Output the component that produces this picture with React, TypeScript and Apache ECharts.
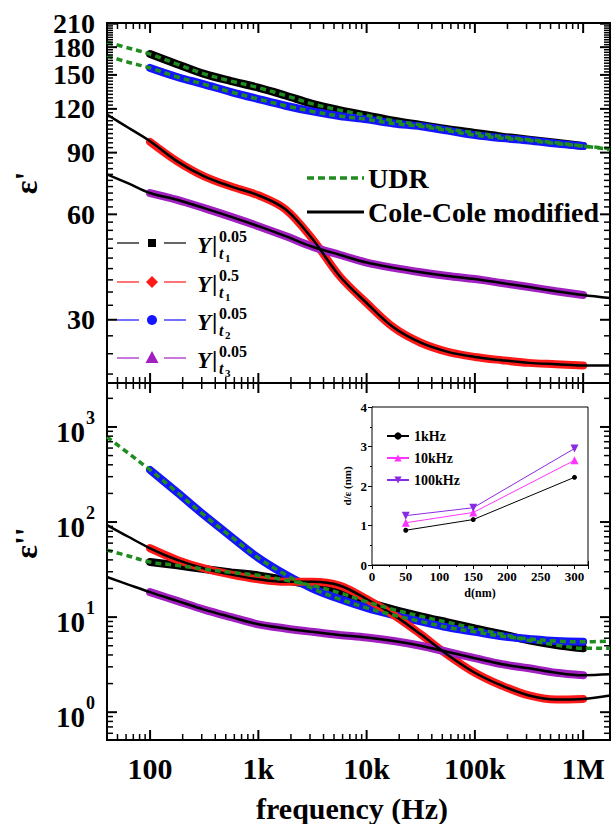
import React, { useEffect, useRef } from 'react';
import * as echarts from 'echarts';

const FONT = 'Liberation Serif';

// ---------- axes ----------
const X_MIN = 40;
const X_MAX = 1.77e6;
const Y_RE_MIN = 19.8;
const Y_RE_MAX = 211;
const Y_IM_MIN = 0.51;
const Y_IM_MAX = 2900;

const xMajorTicks = [100, 1e3, 1e4, 1e5, 1e6];
const xTickLabels = ['100', '1k', '10k', '100k', '1M'];
const logDecades = [0.1, 1, 10, 100, 1e3, 1e4, 1e5, 1e6];
const logMinorMult = [2, 3, 4, 5, 6, 7, 8, 9];
const yReMajorTicks = [30, 60, 90, 120, 150, 180, 210];
const yReTickLabels = ['30', '60', '90', '120', '150', '180', '210'];
const yReMinorStep = 3;
const yImMajorTicks = [1, 10, 100, 1000];
const yImTickExp = ['0', '1', '2', '3'];

// ---------- data ----------
const freqExp = [100, 178, 316, 562, 1e3, 1.78e3, 3.16e3, 5.62e3, 1e4, 1.78e4, 3.16e4, 5.62e4, 1e5, 1.78e5, 3.16e5, 5.62e5, 1e6];
const freqFit = [40, 63, 100, 178, 316, 562, 1e3, 1.78e3, 3.16e3, 5.62e3, 1e4, 1.78e4, 3.16e4, 5.62e4, 1e5, 1.78e5, 3.16e5, 5.62e5, 1e6, 1.77e6];

// ε' (real part)
const reT1a = [172, 161, 151, 144, 138, 131, 124, 119, 115, 111, 108, 105, 102.5, 100, 98, 96, 94];
const reT1b = [96.6, 85, 77, 72, 68, 62, 51, 40, 33.5, 28.5, 25.8, 24.3, 23.5, 23, 22.6, 22.4, 22.2];
const reT2 = [157, 148, 141, 134, 128, 122.5, 118, 114.5, 112, 109, 107, 104, 101, 99, 97.5, 95.5, 94];
const reT3 = [69, 66, 62.5, 59, 55.5, 52, 48.5, 46, 43.7, 42.2, 41, 40, 39.2, 38.2, 37.2, 36.2, 35.3];
const udrReUpper = [186, 179, 172, 161, 151, 144, 138, 131, 124, 119, 115, 111, 108, 105, 102.5, 100, 98, 96, 94, 92.5];
const udrReLower = [170, 163, 157, 148, 141, 134, 128, 122.5, 118, 114.5, 112, 109, 107, 104, 101, 99, 97.5, 95.5, 94, 92];
const ccReT1b = [115.6, 106, 97, 85, 77, 72, 68, 62, 51, 40, 33.5, 28.5, 25.8, 24.3, 23.5, 23, 22.6, 22.4, 22.2, 22.2];
const ccReT3 = [78, 73.5, 69, 66, 62.5, 59, 55.5, 52, 48.5, 46, 43.7, 42.2, 41, 40, 39.2, 38.2, 37.2, 36.2, 35.3, 34.6];

// ε'' (imaginary part)
const imT1a = [38, 35, 32, 29.5, 27.5, 24.5, 21.5, 18, 14.5, 12, 10.2, 8.8, 7.6, 6.6, 5.7, 5.1, 4.7];
const imT1b = [53, 40, 32.5, 28, 25, 23.5, 23.5, 21.5, 15.5, 10.5, 6.6, 4, 2.6, 1.9, 1.5, 1.36, 1.38];
const imT2 = [353, 205, 118, 70, 42, 28, 20, 15.5, 12.5, 10.5, 9, 7.8, 7, 6.3, 5.9, 5.6, 5.5];
const imT3 = [18.3, 14.8, 12, 10, 8.4, 7.6, 7, 6.5, 6.1, 5.6, 5, 4.3, 3.7, 3.2, 2.9, 2.6, 2.45];
const udrImUpper = [785, 530, 353, 205, 118, 70, 42, 28, 20, 15.5, 12.5, 10.5, 9, 7.8, 7, 6.3, 5.9, 5.6, 5.5, 5.6];
const udrImLower = [50.7, 44, 38, 35, 32, 29.5, 27.5, 24.5, 21.5, 18, 14.5, 12, 10.2, 8.8, 7.6, 6.6, 5.7, 5.1, 4.7, 4.7];
const ccImT1b = [93, 70, 53, 40, 32.5, 28, 25, 23.5, 23.5, 21.5, 15.5, 10.5, 6.6, 4, 2.6, 1.9, 1.5, 1.36, 1.38, 1.5];
const ccImT3 = [26.4, 22, 18.3, 14.8, 12, 10, 8.4, 7.6, 7, 6.5, 6.1, 5.6, 5, 4.3, 3.7, 3.2, 2.9, 2.6, 2.45, 2.5];

// inset
const insetD = [50, 150, 300];
const inset1k = [0.88, 1.15, 2.22];
const inset10k = [1.07, 1.33, 2.65];
const inset100k = [1.25, 1.45, 2.95];
const insetNames = ['1kHz', '10kHz', '100kHz'];

const C_BLACK = '#000000';
const C_RED = '#ff1a1a';
const C_BLUE = '#1414ff';
const C_PURPLE = '#a020c0';
const C_GREEN = '#1e8c1e';

const zip = (xs: number[], ys: number[]) => xs.map((x, i) => [x, ys[i]]);

function band(name: string, g: number, ys: number[], color: string) {
  return {
    type: 'line', name, xAxisIndex: g, yAxisIndex: g, data: zip(freqExp, ys),
    symbol: 'none', smooth: 0.35, silent: true, z: 2,
    lineStyle: { color, width: 8, cap: 'round' },
  };
}
function fit(g: number, ys: number[]) {
  return {
    type: 'line', xAxisIndex: g, yAxisIndex: g, data: zip(freqFit, ys),
    symbol: 'none', smooth: 0.35, silent: true, z: 3,
    lineStyle: { color: '#000', width: 2.5 },
  };
}
function udr(g: number, ys: number[]) {
  return {
    type: 'line', xAxisIndex: g, yAxisIndex: g, data: zip(freqFit, ys),
    symbol: 'none', smooth: 0.35, silent: true, z: 4,
    lineStyle: { color: C_GREEN, width: 3.5, type: [6, 4] },
  };
}

function logMinors(lo: number, hi: number, majors: number[]) {
  const out: number[] = [];
  logDecades.forEach((d) => logMinorMult.forEach((m) => {
    const v = +(d * m).toPrecision(6);
    if (v > lo && v < hi && majors.indexOf(v) < 0) out.push(v);
  }));
  return out;
}

function xTickSeries(g: number, yLo: number, yHi: number) {
  const minors = logMinors(X_MIN, X_MAX, xMajorTicks);
  const data = xMajorTicks.map((v) => [v, yLo, 1]).concat(minors.map((v) => [v, yLo, 0]));
  return {
    type: 'custom', xAxisIndex: g, yAxisIndex: g, clip: false, silent: true, z: 10,
    data, encode: { x: 0, y: 1 },
    renderItem: (_p: any, api: any) => {
      const v = api.value(0);
      const major = api.value(2) === 1;
      const len = major ? 10 : 6;
      const lw = major ? 2 : 1.5;
      const pb = api.coord([v, yLo]);
      const pt = api.coord([v, yHi]);
      return {
        type: 'group', children: [
          { type: 'line', shape: { x1: pb[0], y1: pb[1], x2: pb[0], y2: pb[1] - len }, style: { stroke: '#000', lineWidth: lw } },
          { type: 'line', shape: { x1: pt[0], y1: pt[1], x2: pt[0], y2: pt[1] + len }, style: { stroke: '#000', lineWidth: lw } },
        ],
      };
    },
  };
}

function yTickSeries(g: number, majors: number[], minors: number[]) {
  const data = majors.map((v) => [X_MIN, v, 1]).concat(minors.map((v) => [X_MIN, v, 0]));
  return {
    type: 'custom', xAxisIndex: g, yAxisIndex: g, clip: false, silent: true, z: 10,
    data, encode: { x: 0, y: 1 },
    renderItem: (_p: any, api: any) => {
      const v = api.value(1);
      const major = api.value(2) === 1;
      const len = major ? 10 : 6;
      const lw = major ? 2 : 1.5;
      const pl = api.coord([X_MIN, v]);
      const pr = api.coord([X_MAX, v]);
      return {
        type: 'group', children: [
          { type: 'line', shape: { x1: pl[0], y1: pl[1], x2: pl[0] + len, y2: pl[1] }, style: { stroke: '#000', lineWidth: lw } },
          { type: 'line', shape: { x1: pr[0], y1: pr[1], x2: pr[0] - len, y2: pr[1] }, style: { stroke: '#000', lineWidth: lw } },
        ],
      };
    },
  };
}

function f(size: number, weight = 'bold', style = '') {
  return `${style ? style + ' ' : ''}${weight} ${size}px ${FONT}`;
}

function txt(text: string, font: string, align: string, vAlign: string, lineHeight?: number) {
  const s: any = { text, font, fill: '#000', align, verticalAlign: vAlign, textAlign: align, textVerticalAlign: vAlign };
  if (lineHeight) s.lineHeight = lineHeight;
  return s;
}

function buildOption() {
  const reMinors: number[] = [];
  for (let v = 21; v < Y_RE_MAX; v += yReMinorStep) if (v % 30 !== 0) reMinors.push(v);
  const imMinors = logMinors(Y_IM_MIN, Y_IM_MAX, yImMajorTicks);

  const hiddenLog = (g: number, min: number, max: number) => ({
    type: 'log', logBase: 10, gridIndex: g, min, max,
    axisLine: { show: false }, axisTick: { show: false }, axisLabel: { show: false },
    splitLine: { show: false }, minorTick: { show: false },
  });

  const insetAxisCommon = {
    axisLine: { show: true, lineStyle: { color: '#000', width: 1 } },
    axisTick: { show: true, inside: true, length: 4, lineStyle: { color: '#000' } },
    minorTick: { show: true, splitNumber: 2, length: 2, lineStyle: { color: '#000' } },
    splitLine: { show: false },
  };

  const legendEntries = [
    { y: 243, color: C_BLACK, marker: 'square', sup: '0.05', sub: '1' },
    { y: 282, color: C_RED, marker: 'diamond', sup: '0.5', sub: '1' },
    { y: 320, color: C_BLUE, marker: 'circle', sup: '0.05', sub: '2' },
    { y: 358, color: C_PURPLE, marker: 'triangle', sup: '0.05', sub: '3' },
  ];
  const graphics: any[] = [];
  legendEntries.forEach((e) => {
    const y = e.y;
    graphics.push({ type: 'line', shape: { x1: 117, y1: y, x2: 139, y2: y }, style: { stroke: e.color, lineWidth: 1.2 } });
    graphics.push({ type: 'line', shape: { x1: 164, y1: y, x2: 186, y2: y }, style: { stroke: e.color, lineWidth: 1.2 } });
    if (e.marker === 'square') graphics.push({ type: 'rect', shape: { x: 148, y: y - 4, width: 8, height: 8 }, style: { fill: e.color } });
    if (e.marker === 'diamond') graphics.push({ type: 'polygon', shape: { points: [[152, y - 6], [158, y], [152, y + 6], [146, y]] }, style: { fill: e.color } });
    if (e.marker === 'circle') graphics.push({ type: 'circle', shape: { cx: 152, cy: y, r: 5 }, style: { fill: e.color } });
    if (e.marker === 'triangle') graphics.push({ type: 'polygon', shape: { points: [[152, y - 7], [158.5, y + 5], [145.5, y + 5]] }, style: { fill: e.color } });
    graphics.push({ type: 'text', x: 197, y: y + 2, style: txt('Y', f(23, 'bold', 'italic'), 'left', 'middle') });
    graphics.push({ type: 'text', x: 212, y: y + 1, style: txt('|', f(24), 'left', 'middle') });
    graphics.push({ type: 'text', x: 219, y: y - 7, style: txt(e.sup, f(16), 'left', 'middle', 14) });
    graphics.push({ type: 'text', x: 219, y: y + 10, style: txt('t', f(16, 'bold', 'italic'), 'left', 'middle', 14) });
    graphics.push({ type: 'text', x: 225, y: y + 15, style: txt(e.sub, f(11), 'left', 'middle', 9) });
  });
  // fit legend
  graphics.push({ type: 'line', shape: { x1: 307, y1: 178, x2: 364, y2: 178 }, style: { stroke: C_GREEN, lineWidth: 3.5, lineDash: [7, 4] } });
  graphics.push({ type: 'text', x: 368, y: 178, style: txt('UDR', f(28), 'left', 'middle') });
  graphics.push({ type: 'line', shape: { x1: 307, y1: 212, x2: 364, y2: 212 }, style: { stroke: '#000', lineWidth: 3 } });
  graphics.push({ type: 'text', x: 368, y: 212, style: txt('Cole-Cole modified', f(28), 'left', 'middle') });
  // axis titles
  graphics.push({ type: 'text', x: 26, y: 183, rotation: Math.PI / 2, style: txt("ε'", f(32), 'center', 'middle') });
  graphics.push({ type: 'text', x: 26, y: 543, rotation: Math.PI / 2, style: txt("ε''", f(32), 'center', 'middle') });
  graphics.push({ type: 'text', x: 352, y: 808, style: txt('frequency (Hz)', f(30), 'center', 'middle') });

  const series: any[] = [
    // top panel
    band("Y|t1 0.05 (ε')", 0, reT1a, C_BLACK),
    band("Y|t2 0.05 (ε')", 0, reT2, C_BLUE),
    band("Y|t1 0.5 (ε')", 0, reT1b, C_RED),
    band("Y|t3 0.05 (ε')", 0, reT3, C_PURPLE),
    fit(0, ccReT1b), fit(0, ccReT3),
    udr(0, udrReUpper), udr(0, udrReLower),
    // bottom panel
    band("Y|t1 0.05 (ε'')", 1, imT1a, C_BLACK),
    band("Y|t2 0.05 (ε'')", 1, imT2, C_BLUE),
    band("Y|t1 0.5 (ε'')", 1, imT1b, C_RED),
    band("Y|t3 0.05 (ε'')", 1, imT3, C_PURPLE),
    fit(1, ccImT1b), fit(1, ccImT3),
    udr(1, udrImUpper), udr(1, udrImLower),
    // ticks
    xTickSeries(0, Y_RE_MIN, Y_RE_MAX),
    xTickSeries(1, Y_IM_MIN, Y_IM_MAX),
    yTickSeries(0, yReMajorTicks, reMinors),
    yTickSeries(1, yImMajorTicks, imMinors),
    // x labels
    {
      type: 'custom', xAxisIndex: 1, yAxisIndex: 1, clip: false, silent: true, z: 10,
      data: xMajorTicks.map((v, i) => [v, Y_IM_MIN, i]), encode: { x: 0, y: 1 },
      renderItem: (_p: any, api: any) => {
        const p = api.coord([api.value(0), Y_IM_MIN]);
        return { type: 'text', x: p[0], y: p[1] + 28, style: txt(xTickLabels[api.value(2)], f(30), 'center', 'middle') };
      },
    },
    // y labels top
    {
      type: 'custom', xAxisIndex: 0, yAxisIndex: 0, clip: false, silent: true, z: 10,
      data: yReMajorTicks.map((v, i) => [X_MIN, v, i]), encode: { x: 0, y: 1 },
      renderItem: (_p: any, api: any) => {
        const p = api.coord([X_MIN, api.value(1)]);
        return { type: 'text', x: p[0] - 12, y: p[1], style: txt(yReTickLabels[api.value(2)], f(28), 'right', 'middle', 21) };
      },
    },
    // y labels bottom
    {
      type: 'custom', xAxisIndex: 1, yAxisIndex: 1, clip: false, silent: true, z: 10,
      data: yImMajorTicks.map((v, i) => [X_MIN, v, i]), encode: { x: 0, y: 1 },
      renderItem: (_p: any, api: any) => {
        const p = api.coord([X_MIN, api.value(1)]);
        return {
          type: 'group', children: [
            { type: 'text', x: p[0] - 22, y: p[1] + 5, style: txt('10', f(29), 'right', 'middle') },
            { type: 'text', x: p[0] - 21, y: p[1] - 9, style: txt(yImTickExp[api.value(2)], f(18), 'left', 'middle') },
          ],
        };
      },
    },
    // inset
    {
      type: 'line', name: insetNames[0], xAxisIndex: 2, yAxisIndex: 2, data: zip(insetD, inset1k),
      symbol: 'circle', symbolSize: 5, color: '#000', lineStyle: { color: '#000', width: 1 }, z: 6,
    },
    {
      type: 'line', name: insetNames[1], xAxisIndex: 2, yAxisIndex: 2, data: zip(insetD, inset10k),
      symbol: 'triangle', symbolSize: 8, color: '#ff33ff', lineStyle: { color: '#ff33ff', width: 1 }, z: 6,
    },
    {
      type: 'line', name: insetNames[2], xAxisIndex: 2, yAxisIndex: 2, data: zip(insetD, inset100k),
      symbol: 'triangle', symbolRotate: 180, symbolSize: 8, color: '#8a2be2', lineStyle: { color: '#8a2be2', width: 1 }, z: 6,
    },
  ];

  return {
    animation: false,
    backgroundColor: '#ffffff',
    textStyle: { fontFamily: FONT },
    grid: [
      { left: 107, top: 23, width: 503, height: 360, show: true, borderColor: '#000', borderWidth: 2, backgroundColor: 'transparent' },
      { left: 107, top: 383, width: 503, height: 357, show: true, borderColor: '#000', borderWidth: 2, backgroundColor: 'transparent' },
      { left: 372, top: 407, width: 216, height: 158, show: true, borderColor: '#000', borderWidth: 1, backgroundColor: '#fff', z: 5 },
    ],
    xAxis: [
      hiddenLog(0, X_MIN, X_MAX),
      hiddenLog(1, X_MIN, X_MAX),
      {
        type: 'value', gridIndex: 2, min: 0, max: 320, interval: 50, position: 'bottom', ...insetAxisCommon,
        axisLabel: { show: true, showMaxLabel: false, color: '#000', fontFamily: FONT, fontWeight: 'bold', fontSize: 13, margin: 5 },
        name: 'd(nm)', nameLocation: 'middle', nameGap: 22,
        nameTextStyle: { color: '#000', fontFamily: FONT, fontWeight: 'bold', fontSize: 12 },
      },
      {
        type: 'value', gridIndex: 2, min: 0, max: 320, interval: 50, position: 'top', ...insetAxisCommon,
        axisLabel: { show: false },
      },
    ],
    yAxis: [
      hiddenLog(0, Y_RE_MIN, Y_RE_MAX),
      hiddenLog(1, Y_IM_MIN, Y_IM_MAX),
      {
        type: 'value', gridIndex: 2, min: 0, max: 4, interval: 1, position: 'left', ...insetAxisCommon,
        axisLabel: { show: true, color: '#000', fontFamily: FONT, fontWeight: 'bold', fontSize: 13, margin: 5 },
        name: 'd/ε (nm)', nameLocation: 'middle', nameGap: 20, nameRotate: 90,
        nameTextStyle: { color: '#000', fontFamily: FONT, fontWeight: 'bold', fontSize: 11 },
      },
      {
        type: 'value', gridIndex: 2, min: 0, max: 4, interval: 1, position: 'right', ...insetAxisCommon,
        axisLabel: { show: false },
      },
    ],
    legend: {
      data: insetNames, orient: 'vertical', left: 381, top: 424, itemWidth: 22, itemHeight: 9, itemGap: 8,
      textStyle: { color: '#000', fontFamily: FONT, fontWeight: 'bold', fontSize: 14 },
      selectedMode: false, z: 8,
    },
    graphic: { elements: graphics },
    series,
  };
}

export default function App() {
  const ref = useRef<HTMLDivElement>(null);
  useEffect(() => {
    if (!ref.current) return;
    const chart = echarts.init(ref.current, undefined, { renderer: 'svg' });
    chart.setOption(buildOption() as any);
    return () => chart.dispose();
  }, []);
  return (
    <div
      ref={ref}
      style={{ position: 'absolute', left: 0, top: 0, width: 613, height: 824, background: '#fff' }}
    />
  );
}
